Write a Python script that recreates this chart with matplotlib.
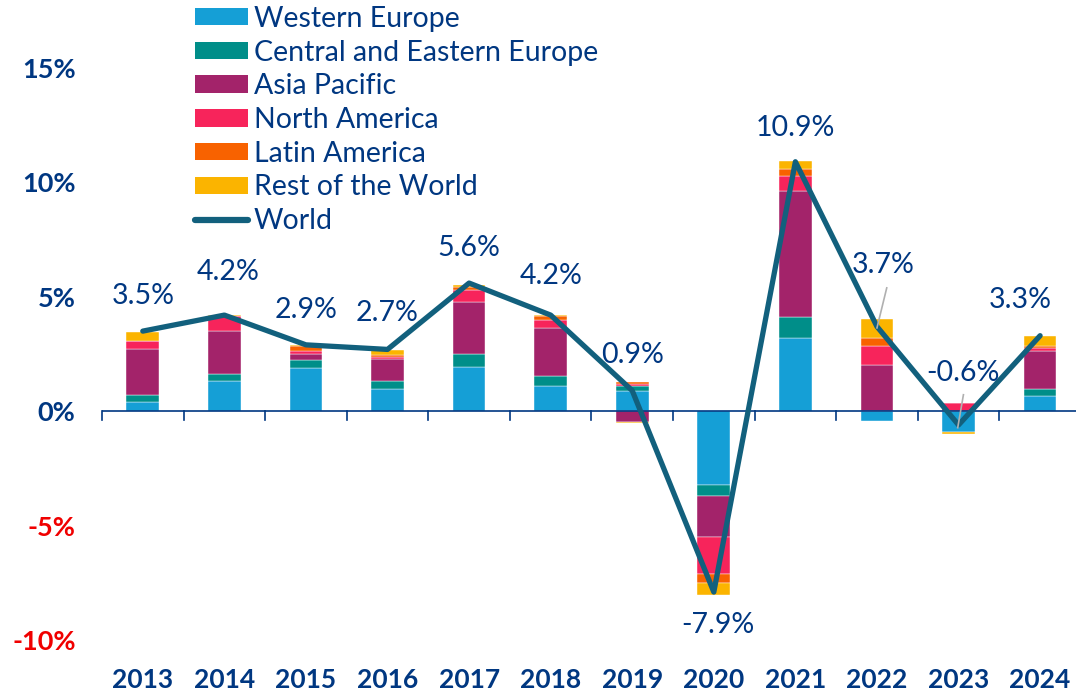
import numpy as np
import matplotlib
matplotlib.use("Agg")
import matplotlib.pyplot as plt
from matplotlib.lines import Line2D
from matplotlib.patches import Patch
from matplotlib.transforms import blended_transform_factory

# data (percentage points contribution to world growth)
years = ["2013", "2014", "2015", "2016", "2017", "2018",
         "2019", "2020", "2021", "2022", "2023", "2024"]
regions = ["Western Europe", "Central and Eastern Europe", "Asia Pacific",
           "North America", "Latin America", "Rest of the World"]
western_europe = [0.40, 1.33, 1.89, 0.97, 1.93, 1.10, 0.90, -3.22, 3.22, -0.42, -0.90, 0.67]
central_eastern_europe = [0.29, 0.29, 0.36, 0.36, 0.57, 0.45, 0.20, -0.50, 0.90, 0.00, 0.00, 0.32]
asia_pacific = [2.01, 1.88, 0.26, 0.95, 2.27, 2.07, -0.45, -1.78, 5.50, 2.02, 0.00, 1.64]
north_america = [0.38, 0.64, 0.13, 0.09, 0.51, 0.38, 0.07, -1.62, 0.66, 0.83, 0.35, 0.15]
latin_america = [0.00, 0.00, 0.22, 0.08, 0.14, 0.18, 0.10, -0.39, 0.29, 0.34, 0.00, 0.07]
rest_of_world = [0.36, 0.06, 0.04, 0.22, 0.10, 0.03, -0.07, -0.51, 0.36, 0.86, -0.08, 0.44]
world = [3.5, 4.2, 2.9, 2.7, 5.6, 4.2, 0.9, -7.9, 10.9, 3.7, -0.6, 3.3]
yticks = [-10, -5, 0, 5, 10, 15]

colors = ["#159fd6", "#008e89", "#a3236a", "#f7245b", "#f86200", "#fbb400"]
navy = "#003781"
line_col = "#12607d"

plt.rcParams['font.family'] = ['Lato', 'DejaVu Sans']

fig = plt.figure(figsize=(10.76, 6.95), dpi=100)
ax = fig.add_axes([102 / 1076, 35 / 695, 974 / 1076, 620 / 695])
ax.set_xlim(-0.5, 11.44)
ax.set_ylim(-10.87, 16.22)

x = np.arange(len(years))
series = [western_europe, central_eastern_europe, asia_pacific,
          north_america, latin_america, rest_of_world]
pos_base = np.zeros(len(years))
neg_base = np.zeros(len(years))
for vals, col in zip(series, colors):
    v = np.array(vals)
    base = np.where(v >= 0, pos_base, neg_base)
    ax.bar(x, v, bottom=base, width=0.4, color=col, edgecolor="white",
           linewidth=0.3, zorder=2)
    pos_base += np.where(v >= 0, v, 0)
    neg_base += np.where(v < 0, v, 0)

ax.plot(x, world, color=line_col, lw=3.8, solid_joinstyle="round",
        solid_capstyle="round", zorder=4)

# zero axis with boundary ticks
ax.axhline(0, color=navy, lw=1.2, zorder=3)
for b in np.arange(-0.5, 12, 1):
    ax.plot([b, b], [0, -0.4], color=navy, lw=1.2, zorder=3, clip_on=False)

# data labels (offsets in points)
offsets = [(0, 25), (2.4, 31), (0, 25), (0, 26), (0, 25.5), (0, 28),
           (0, 26), (3, -23.5), (0, 24.5), (4.8, 44.5), (2.9, 37.6), (-14, 26)]
for i, (val, off) in enumerate(zip(world, offsets)):
    ax.annotate(f"{val:.1f}%", (x[i], val), xytext=off, textcoords="offset points",
                ha="center", va="center", fontsize=20.5, color=navy, zorder=5)

# leader lines for 2022 and 2023
ax.plot([9.12, 9.0], [5.39, 3.64], color="#b0b0b0", lw=1.2, zorder=5)
ax.plot([10.06, 9.99], [0.72, -0.72], color="#b0b0b0", lw=1.2, zorder=5)

# y ticks
ax.set_yticks(yticks)
ax.set_yticklabels([f"{t}%" for t in yticks])
ax.tick_params(axis="y", length=0, pad=19, labelsize=19.5)
for lbl, t in zip(ax.get_yticklabels(), yticks):
    lbl.set_fontweight("bold")
    lbl.set_color("#f00000" if t < 0 else navy)

ax.set_xticks([])
trans = blended_transform_factory(ax.transData, fig.transFigure)
for xi, yr in zip(x, years):
    ax.text(xi, 15 / 695, yr, transform=trans, ha="center", va="center",
            fontsize=19, fontweight="bold", color=navy)

for s in ax.spines.values():
    s.set_visible(False)

handles = [Patch(facecolor=c, edgecolor="none") for c in colors]
handles.append(Line2D([0], [0], color=line_col, lw=4.5, solid_capstyle="round"))
leg = fig.legend(handles, regions + ["World"], loc="upper left",
                 bbox_to_anchor=(192 / 1076, 1 - 3 / 695), frameon=False, fontsize=20.5,
                 handlelength=1.85, handleheight=0.56, handletextpad=0.22,
                 labelspacing=0.27, borderaxespad=0, borderpad=0.1)
for t in leg.get_texts():
    t.set_color(navy)

fig.savefig("out.png", dpi=100)
